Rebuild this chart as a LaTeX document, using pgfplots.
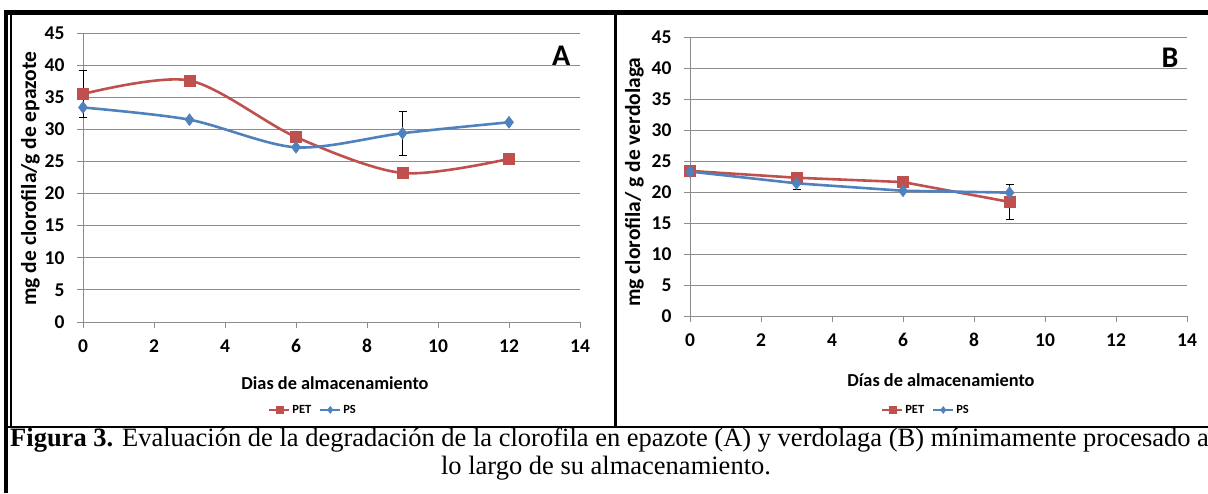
\documentclass[border=0pt]{standalone}
\usepackage{pgfplots}
\pgfplotsset{compat=1.18}
\usepackage{fontspec}
\setmainfont{Liberation Serif}
\newfontfamily\cf{Carlito}
\definecolor{petred}{RGB}{192,80,77}
\definecolor{psblue}{RGB}{79,129,189}
\definecolor{gridgray}{RGB}{140,140,140}
\newcommand{\fs}[1]{\fontsize{#1}{#1}\selectfont}

\pgfplotsset{
  panel/.style={
    scale only axis, clip=false,
    width=497pt,
    xmin=0,xmax=14,ymin=0,ymax=45,
    xtick={0,2,...,14}, ytick={0,5,...,45},
    /pgf/number format/assume math mode=true,
    axis x line*=bottom, axis y line*=left,
    axis line style={gridgray, line width=0.8pt, -},
    ymajorgrids, grid style={gridgray, line width=0.8pt},
    tick style={gridgray, line width=0.8pt},
    tick align=outside, major tick length=6pt,
    ticklabel style={font=\cf\bfseries\fs{19.5}, black},
    xticklabel style={yshift=-8pt},
    yticklabel style={xshift=-9pt},
    label style={font=\cf\bfseries\fs{18.3}},
    legend style={draw=none, fill=none, font=\cf\bfseries\fs{12.5}, legend columns=2, anchor=center,
      /tikz/every even column/.append style={column sep=6pt}},
    legend image code/.code={\draw[mark repeat=2, mark phase=2, line width=2pt, mark size=3.5pt] plot coordinates {(0pt,0pt) (10pt,0pt) (20pt,0pt)};},
  },
  pet/.style={petred, line width=2.6pt, mark=square*, mark size=5.5pt, mark options={solid, line width=0.5pt, fill=petred}},
  ps/.style={psblue, line width=2.6pt, mark=diamond*, mark size=6pt, mark options={solid, fill=psblue, line width=0.5pt}},
  ebar/.style={only marks, mark=none, forget plot, black,
    error bars/.cd, y dir=both, y explicit,
    error bar style={black, line width=0.8pt},
    error mark options={black, mark size=4pt, line width=0.8pt, rotate=90}},
}

\begin{document}
\begin{tikzpicture}[x=1pt,y=1pt]
\useasboundingbox (0,0) rectangle (1208,493);

% ---------- Panel A ----------
\begin{axis}[panel, at={(83pt,171pt)}, anchor=south west, height=289pt,
  xlabel={Dias de almacenamiento},
  xlabel style={at={(axis description cs:0.507,-0.211)}, anchor=center},
  ylabel={mg de clorofila/g de epazote},
  ylabel style={at={(axis description cs:-0.106,0.4965)}, anchor=center, font=\cf\bfseries\fs{21.5}},
  legend style={at={(axis description cs:0.463,-0.304)}},
]
\addplot[ebar] coordinates {(0,35.5) +- (0,3.65) (9,29.4) +- (0,3.4)};
\addplot[pet, smooth, tension=0.5] coordinates {(0,35.5)(3,37.6)(6,28.8)(9,23.2)(12,25.4)};
\addlegendentry{PET}
\addplot[ps, smooth, tension=0.5] coordinates {(0,33.4)(3,31.5)(6,27.2)(9,29.4)(12,31.1)};
\addlegendentry{PS}
\node[font=\cf\bfseries\fs{30}] at (rel axis cs:0.962,0.920) {A};
\end{axis}

% ---------- Panel B ----------
\begin{axis}[panel, at={(690pt,177pt)}, anchor=south west, height=279pt,
  xlabel={Días de almacenamiento},
  xlabel style={at={(axis description cs:0.505,-0.229)}, anchor=center},
  ylabel={mg clorofila/ g de verdolaga},
  ylabel style={at={(axis description cs:-0.112,0.48)}, anchor=center, font=\cf\bfseries\fs{21.5}},
  legend style={at={(axis description cs:0.475,-0.337)}},
]
\addplot[ebar] coordinates {(0,23.3) +- (0,0.8) (3,21.4) +- (0,1.0) (9,18.4) +- (0,2.9)};
\addplot[pet] coordinates {(0,23.4)(3,22.3)(6,21.6)(9,18.4)};
\addlegendentry{PET}
\addplot[ps] coordinates {(0,23.3)(3,21.4)(6,20.2)(9,19.9)};
\addlegendentry{PS}
\node[font=\cf\bfseries\fs{30}] at (rel axis cs:0.966,0.925) {B};
\end{axis}

% ---------- Frame ----------
\draw[line width=4.5pt] (4,480.5) -- (1208,480.5);
\draw[line width=4pt] (6,0) -- (6,482);
\draw[line width=1.5pt] (11,66) -- (11,480);
\draw[line width=2.5pt] (615.5,66) -- (615.5,480);
\draw[line width=2pt] (6,66) -- (1208,66);

% ---------- Caption ----------
\node[anchor=base west, inner sep=0pt, font=\fs{26.5}] at (10,47)
  {\textbf{Figura 3.} Evaluación de la degradación de la clorofila en epazote (A) y verdolaga (B) mínimamente procesado a};
\node[anchor=base, inner sep=0pt, font=\fs{26.5}] at (606,19) {lo largo de su almacenamiento.};
\end{tikzpicture}
\end{document}
